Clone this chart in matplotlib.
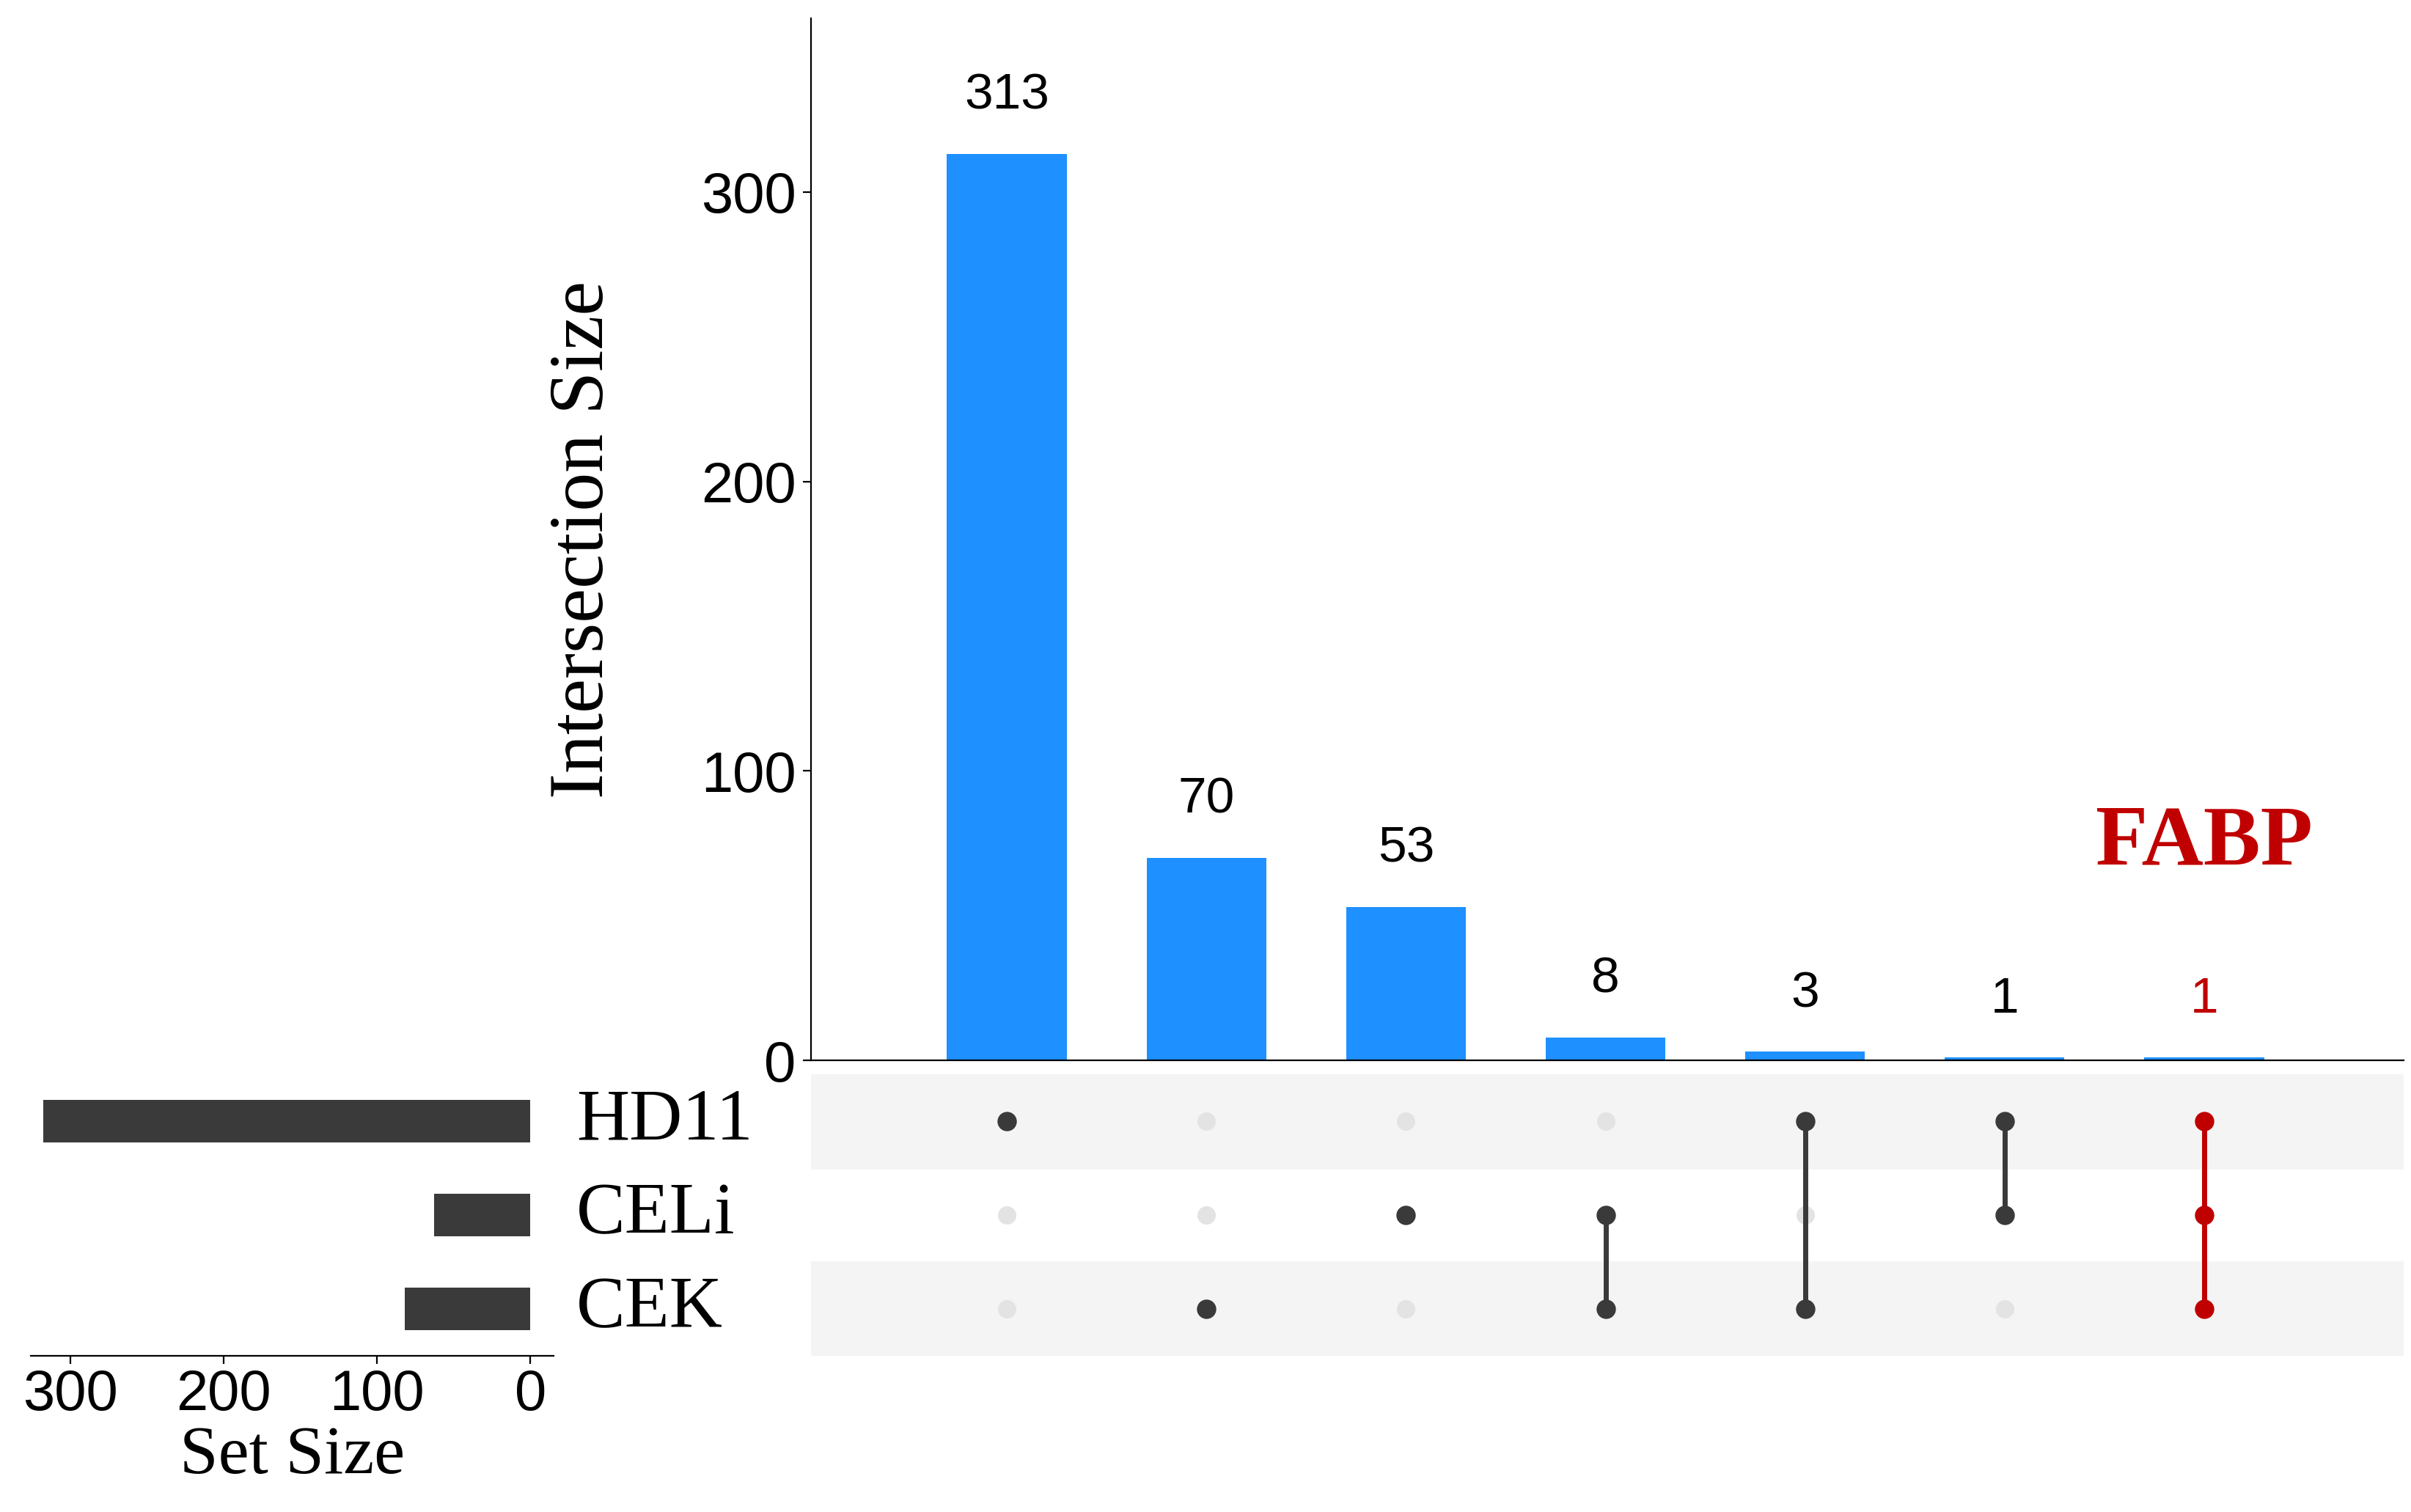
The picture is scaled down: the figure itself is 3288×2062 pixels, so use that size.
import matplotlib
matplotlib.use("Agg")
import matplotlib.pyplot as plt

sets = ["HD11", "CELi", "CEK"]
set_sizes = [318, 63, 82]
inter_sizes = [313, 70, 53, 8, 3, 1, 1]
membership = [[1,0,0],[0,0,1],[0,1,0],[0,1,1],[1,0,1],[1,1,0],[1,1,1]]
highlight = [False]*6 + [True]
blue = "#1E90FF"; red = "#C00000"; dark = "#3a3a3a"

serif = "Liberation Serif"; sans = "Liberation Sans"
fig = plt.figure(figsize=(16.44, 10.31), dpi=200)
ax = fig.add_axes([0.3365, 0.2986, 0.6605, 0.6894])
axm = fig.add_axes([0.3365, 0.1033, 0.6605, 0.1861])
axs = fig.add_axes([0.0128, 0.1033, 0.2167, 0.1861])

n = len(inter_sizes)
xs = list(range(n))
ax.bar(xs, inter_sizes, width=0.6, color=blue)
for x, v, h in zip(xs, inter_sizes, highlight):
    ax.text(x, v + 12, str(v), ha="center", va="bottom", fontsize=25, family=sans,
            color=red if h else "black")
ax.set_xlim(-0.98, 7.0); ax.set_ylim(0, 360)
ax.set_yticks([0, 100, 200, 300])
ax.tick_params(axis="y", labelsize=28, length=4)
for t in ax.get_yticklabels(): t.set_family(sans)
ax.set_xticks([])
ax.set_ylabel("Intersection Size", fontsize=38, family=serif, labelpad=40)
for s in ["top", "right"]: ax.spines[s].set_visible(False)
ax.text(6.0, 75, "FABP", color=red, fontsize=42, fontweight="bold", family=serif, ha="center", va="center")

# matrix
axm.set_xlim(-0.98, 7.0); axm.set_ylim(-0.5, 2.5)
for r in [0, 2]:
    axm.axhspan(2 - r - 0.5, 2 - r + 0.5, color="#f4f4f4", zorder=0)
for x, mem, h in zip(xs, membership, highlight):
    c = red if h else dark
    ys = [2 - i for i, m in enumerate(mem) if m]
    for i, m in enumerate(mem):
        if not m:
            axm.plot(x, 2 - i, "o", color="#e3e3e3", ms=8, zorder=2)
    if len(ys) > 1:
        axm.plot([x, x], [min(ys), max(ys)], color=c, lw=2.5, zorder=3)
    axm.plot([x]*len(ys), ys, "o", color=c, ms=8.5, zorder=4, linestyle="none")
axm.axis("off")

# set sizes
ys = [2 - i for i in range(3)]
axs.barh(ys, set_sizes, height=0.45, color=dark)
axs.set_xlim(326, -15); axs.set_ylim(-0.5, 2.5)
axs.set_xticks([300, 200, 100, 0])
axs.tick_params(axis="x", labelsize=28, length=4, pad=2)
for t in axs.get_xticklabels(): t.set_family(sans)
axs.set_yticks([])
for s in ["top", "right", "left"]: axs.spines[s].set_visible(False)
axs.set_xlabel("Set Size", fontsize=34, family=serif, labelpad=2)
for y, name in zip(ys, sets):
    axs.text(-30, y, name, fontsize=36, family=serif, ha="left", va="center", clip_on=False)

fig.savefig("out.png", dpi=200)
